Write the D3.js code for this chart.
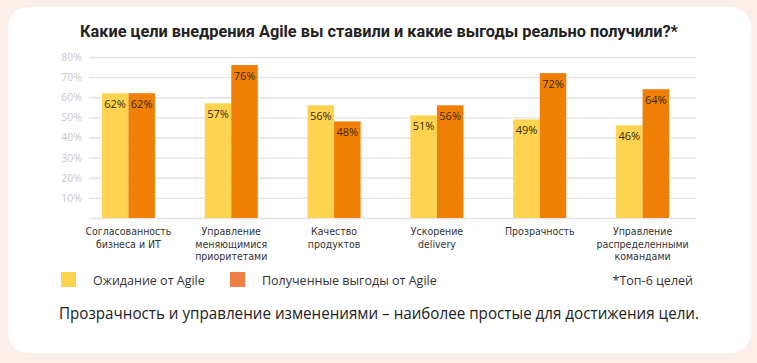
<!DOCTYPE html>
<html>
<head>
<meta charset="utf-8">
<script src="https://d3js.org/d3.v7.min.js"></script>
<style>
  html, body { margin: 0; padding: 0; background: #fcefea; }
  svg { display: block; }
</style>
</head>
<body>
<svg id="chart" width="757" height="363"></svg>
<script>
const categories = [
  ["Согласованность", "бизнеса и ИТ"],
  ["Управление", "меняющимися", "приоритетами"],
  ["Качество", "продуктов"],
  ["Ускорение", "delivery"],
  ["Прозрачность"],
  ["Управление", "распределенными", "командами"]
];
const expected = [62, 57, 56, 51, 49, 46];
const received = [62, 76, 48, 56, 72, 64];
const seriesNames = ["Ожидание от Agile", "Полученные выгоды от Agile"];
const yTicks = [0, 10, 20, 30, 40, 50, 60, 70, 80];

const barColors = ["#fdd34f", "#ef7f05"];
const legendColors = ["#fdd34f", "#ef7f45"];

const svg = d3.select("#chart");

// card
svg.append("rect")
  .attr("x", 8).attr("y", 7)
  .attr("width", 743).attr("height", 346)
  .attr("rx", 20)
  .attr("fill", "#ffffff");

// title
svg.append("text")
  .attr("x", 379).attr("y", 37)
  .attr("text-anchor", "middle")
  .attr("font-family", "Roboto, 'Open Sans', sans-serif")
  .attr("font-weight", "bold")
  .attr("font-size", 16)
  .attr("fill", "#222")
  .attr("textLength", 598)
  .attr("lengthAdjust", "spacingAndGlyphs")
  .text("Какие цели внедрения Agile вы ставили и какие выгоды реально получили?*");

const y = d3.scaleLinear().domain([0, 80]).range([218, 57]);
const x = d3.scaleBand()
  .domain(d3.range(categories.length))
  .range([77, 694])
  .paddingInner(0.484)
  .paddingOuter(0.242);
const xs = d3.scaleBand().domain([0, 1]).range([0, x.bandwidth()]);

// grid + y axis
const axis = svg.append("g")
  .attr("transform", "translate(89,0)")
  .call(d3.axisLeft(y).tickValues(yTicks).tickSize(-607).tickPadding(7)
    .tickFormat(d => d === 0 ? "" : d + "%"));
axis.select(".domain").remove();
axis.selectAll(".tick line").attr("stroke", "#e3e3e3").attr("stroke-width", 1.4);
axis.selectAll(".tick text")
  .attr("fill", "#c9c9c9")
  .attr("font-size", 10.5)
  .attr("font-family", "'Open Sans', sans-serif");

// bars
const rows = categories.map((c, i) => [expected[i], received[i]]);
const groups = svg.append("g").selectAll("g")
  .data(rows)
  .enter()
  .append("g")
  .attr("transform", (d, i) => `translate(${x(i)},0)`);

groups.selectAll("rect")
  .data(d => d)
  .enter()
  .append("rect")
  .attr("x", (d, j) => xs(j))
  .attr("y", d => y(d))
  .attr("width", xs.bandwidth())
  .attr("height", d => y(0) - y(d))
  .attr("fill", (d, j) => barColors[j]);

groups.selectAll("text")
  .data(d => d)
  .enter()
  .append("text")
  .attr("x", (d, j) => xs(j) + xs.bandwidth() / 2)
  .attr("y", d => y(d) + 15)
  .attr("text-anchor", "middle")
  .attr("font-family", "'Open Sans', sans-serif")
  .attr("font-size", 11)
  .attr("fill", "#3a2a10")
  .text(d => d + "%");

// category labels
const catLabels = svg.append("g").selectAll("text")
  .data(categories)
  .enter()
  .append("text")
  .attr("x", (d, i) => x(i) + x.bandwidth() / 2)
  .attr("y", 235)
  .attr("text-anchor", "middle")
  .attr("font-family", "'Liberation Sans Narrow', 'DejaVu Sans Condensed', sans-serif")
  .attr("font-size", 10.5)
  .attr("fill", "#333");

catLabels.selectAll("tspan")
  .data(d => d)
  .enter()
  .append("tspan")
  .attr("x", function () { return d3.select(this.parentNode).attr("x"); })
  .attr("dy", (d, k) => k === 0 ? 0 : 12.5)
  .text(d => d);

// legend
const legendX = [61, 230];
const legend = svg.append("g").selectAll("g")
  .data(seriesNames)
  .enter()
  .append("g")
  .attr("transform", (d, i) => `translate(${legendX[i]},272)`);

legend.append("rect")
  .attr("width", 15).attr("height", 15)
  .attr("fill", (d, i) => legendColors[i]);

legend.append("text")
  .attr("x", 32).attr("y", 12.5)
  .attr("font-family", "'Open Sans', sans-serif")
  .attr("font-size", 12.5)
  .attr("fill", "#333")
  .text(d => d);

svg.append("text")
  .attr("x", 693).attr("y", 284.5)
  .attr("text-anchor", "end")
  .attr("font-family", "'Open Sans', sans-serif")
  .attr("font-size", 12.5)
  .attr("fill", "#333")
  .text("*Топ-6 целей");

// footer
svg.append("text")
  .attr("x", 379).attr("y", 319)
  .attr("text-anchor", "middle")
  .attr("font-family", "'Open Sans', sans-serif")
  .attr("font-size", 16)
  .attr("fill", "#222")
  .attr("textLength", 640)
  .attr("lengthAdjust", "spacingAndGlyphs")
  .text("Прозрачность и управление изменениями – наиболее простые для достижения цели.");
</script>
</body>
</html>
